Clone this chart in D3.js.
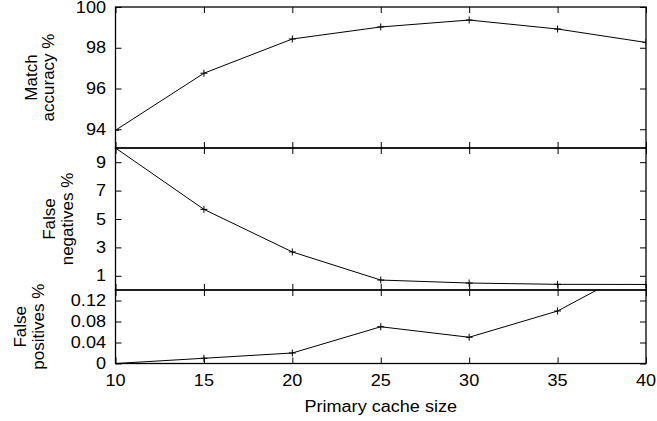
<!DOCTYPE html>
<html>
<head>
<meta charset="utf-8">
<script src="https://cdn.jsdelivr.net/npm/d3@7"></script>
<style>
  body { margin: 0; background: #fff; }
  text { font-family: "Liberation Sans", Arial, sans-serif; font-size: 16px; fill: #000; }
  text.ytitle { font-size: 17px; }
</style>
</head>
<body>
<svg id="chart" width="657" height="421"></svg>
<script>
// data
var cacheSizes = [10, 15, 20, 25, 30, 35, 40];
var matchAccuracy = [93.95, 96.75, 98.43, 99.02, 99.36, 98.92, 98.26];
var falseNegatives = [10, 5.68, 2.68, 0.70, 0.49, 0.40, 0.39];
var falsePositives = [0, 0.01, 0.02, 0.07, 0.05, 0.10, 0.19];

var xTicks = [10, 15, 20, 25, 30, 35, 40];
var accTicks = [94, 96, 98, 100];
var negTicks = [1, 3, 5, 7, 9];
var posTicks = [0, 0.04, 0.08, 0.12];

var xTitle = "Primary cache size";

// layout
var left = 115.5, right = 646;
var sx = 1.13; // horizontal text in the source is a bit stretched
var tickLen = 6;

var svg = d3.select("#chart");

var x = d3.scaleLinear().domain([10, 40]).range([left, right]);

var panels = [
  { values: matchAccuracy, ticks: accTicks, domain: [93.08, 100], top: 7, bottom: 148,
    label: ["Match", "accuracy %"], labelX: [31, 48], fmt: d3.format("d") },
  { values: falseNegatives, ticks: negTicks, domain: [0, 10], top: 148, bottom: 290,
    label: ["False", "negatives %"], labelX: [49, 67], fmt: d3.format("d") },
  { values: falsePositives, ticks: posTicks, domain: [0, 0.14], top: 290, bottom: 363.5,
    label: ["False", "positives %"], labelX: [20, 38], fmt: function(d) { return d === 0 ? "0" : d3.format(".2f")(d); } }
];

panels.forEach(function(p, i) {
  var y = d3.scaleLinear().domain(p.domain).range([p.bottom, p.top]);
  var g = svg.append("g");

  // clip for the series
  svg.append("clipPath").attr("id", "clip" + i)
    .append("rect")
    .attr("x", left).attr("y", p.top)
    .attr("width", right - left).attr("height", p.bottom - p.top);

  // y ticks, left and mirrored right
  g.append("g").attr("transform", "translate(" + left + ",0)")
    .call(d3.axisRight(y).tickValues(p.ticks).tickSize(tickLen).tickFormat(""))
    .call(function(a) { a.select(".domain").remove(); });
  g.append("g").attr("transform", "translate(" + right + ",0)")
    .call(d3.axisLeft(y).tickValues(p.ticks).tickSize(tickLen).tickFormat(""))
    .call(function(a) { a.select(".domain").remove(); });

  // y tick labels
  g.selectAll(".ylab").data(p.ticks).enter().append("text")
    .attr("class", "ylab")
    .attr("text-anchor", "end")
    .attr("dy", "0.35em")
    .attr("transform", function(d) { return "translate(" + (left - 9.5) + "," + y(d) + ") scale(" + sx + ",1)"; })
    .text(p.fmt);

  // x ticks on top and bottom of each panel
  g.append("g").attr("transform", "translate(0," + p.bottom + ")")
    .call(d3.axisTop(x).tickValues(xTicks).tickSize(tickLen).tickFormat(""))
    .call(function(a) { a.select(".domain").remove(); });
  g.append("g").attr("transform", "translate(0," + p.top + ")")
    .call(d3.axisBottom(x).tickValues(xTicks).tickSize(tickLen).tickFormat(""))
    .call(function(a) { a.select(".domain").remove(); });

  // border
  g.append("rect")
    .attr("x", left).attr("y", p.top)
    .attr("width", right - left).attr("height", p.bottom - p.top)
    .attr("fill", "none").attr("stroke", "#000").attr("stroke-width", 1.3);

  g.selectAll(".tick line").attr("stroke", "#000").attr("stroke-width", 1);

  // series
  var pts = cacheSizes.map(function(c, k) { return { x: c, v: p.values[k] }; });
  var line = d3.line()
    .x(function(d) { return x(d.x); })
    .y(function(d) { return y(d.v); });
  var sg = g.append("g").attr("clip-path", "url(#clip" + i + ")");
  sg.append("path")
    .attr("d", line(pts))
    .attr("fill", "none").attr("stroke", "#000").attr("stroke-width", 1);
  sg.selectAll(".pt").data(pts).enter().append("path")
    .attr("class", "pt")
    .attr("d", function(d) {
      var px = x(d.x), py = y(d.v);
      return "M" + (px - 3.5) + "," + py + "H" + (px + 3.5) + "M" + px + "," + (py - 3.5) + "V" + (py + 3.5);
    })
    .attr("stroke", "#000").attr("stroke-width", 1);

  // y label, two lines
  var cy = (p.top + p.bottom) / 2;
  p.label.forEach(function(t, j) {
    svg.append("text")
      .attr("class", "ytitle")
      .attr("text-anchor", "middle")
      .attr("dy", "0.35em")
      .attr("transform", "translate(" + p.labelX[j] + "," + cy + ") rotate(-90)")
      .text(t);
  });
});

// x tick labels
svg.selectAll(".xlab").data(xTicks).enter().append("text")
  .attr("class", "xlab")
  .attr("text-anchor", "middle")
  .attr("transform", function(d) { return "translate(" + x(d) + ",386) scale(" + sx + ",1)"; })
  .text(function(d) { return d; });

// x title
svg.append("text")
  .attr("text-anchor", "middle")
  .attr("transform", "translate(" + ((left + right) / 2) + ",412) scale(" + sx + ",1)")
  .text(xTitle);
</script>
</body>
</html>
